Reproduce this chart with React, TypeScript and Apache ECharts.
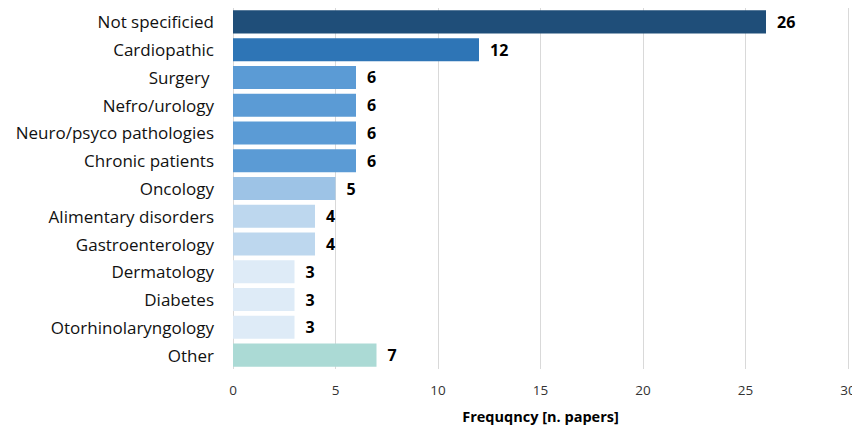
import React, { useEffect, useRef } from "react";
import * as echarts from "echarts";

const categories = [
  "Not specificied",
  "Cardiopathic",
  "Surgery ",
  "Nefro/urology",
  "Neuro/psyco pathologies",
  "Chronic patients",
  "Oncology",
  "Alimentary disorders",
  "Gastroenterology",
  "Dermatology",
  "Diabetes",
  "Otorhinolaryngology",
  "Other",
];
const values = [26, 12, 6, 6, 6, 6, 5, 4, 4, 3, 3, 3, 7];
const colors = [
  "#1f4e79",
  "#2e75b6",
  "#5b9bd5",
  "#5b9bd5",
  "#5b9bd5",
  "#5b9bd5",
  "#9dc3e6",
  "#bdd7ee",
  "#bdd7ee",
  "#deebf7",
  "#deebf7",
  "#deebf7",
  "#abdad5",
];
const xTicks = [0, 5, 10, 15, 20, 25, 30];

export default function App() {
  const ref = useRef<HTMLDivElement>(null);
  useEffect(() => {
    if (!ref.current) return;
    const chart = echarts.init(ref.current, undefined, { renderer: "svg" });
    const font = "'Open Sans', 'Liberation Sans', sans-serif";
    chart.setOption({
      animation: false,
      grid: {
        left: 233,
        right: 4,
        top: 8,
        bottom: 59,
        containLabel: false,
        outerBoundsMode: "none",
      },
      xAxis: {
        type: "value",
        min: xTicks[0],
        max: xTicks[xTicks.length - 1],
        interval: 5,
        name: "Frequqncy [n. papers]",
        nameLocation: "middle",
        nameGap: 40,
        nameTextStyle: { fontFamily: font, fontSize: 14.5, fontWeight: "bold", color: "#000" },
        axisLine: { show: false },
        axisTick: { show: false },
        axisLabel: { fontFamily: font, fontSize: 13.5, color: "#333", margin: 14 },
        splitLine: { show: true, lineStyle: { color: "#d9d9d9", width: 1 } },
      },
      yAxis: {
        type: "category",
        data: categories,
        inverse: true,
        axisLine: { show: false },
        axisTick: { show: false },
        axisLabel: { fontFamily: font, fontSize: 17, color: "#111", margin: 19 },
      },
      series: [
        {
          type: "bar",
          data: values.map((v, i) => ({ value: v, itemStyle: { color: colors[i] } })),
          barCategoryGap: "17%",
          label: {
            show: true,
            position: "right",
            distance: 11,
            fontFamily: font,
            fontSize: 16,
            fontWeight: "bold",
            color: "#000",
          },
        },
      ],
    });
    return () => chart.dispose();
  }, []);
  return <div ref={ref} style={{ width: 852, height: 428, position: "absolute", left: 0, top: 0 }} />;
}
